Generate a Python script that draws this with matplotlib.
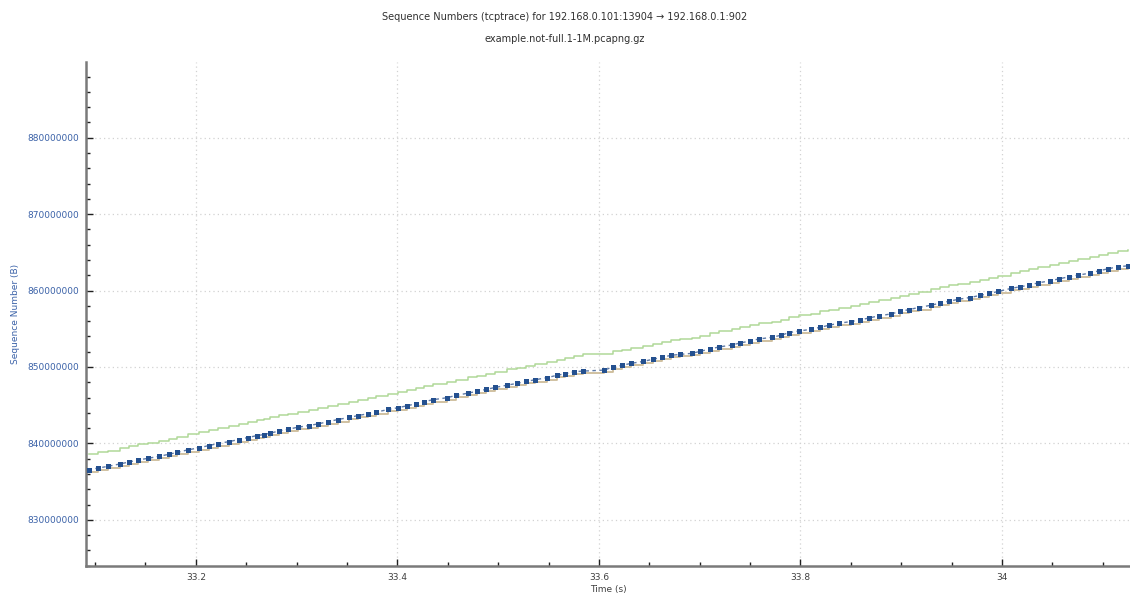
import matplotlib
matplotlib.use("Agg")
import matplotlib.pyplot as plt
import matplotlib.ticker as ticker
import numpy as np

# segment send times (s) and sequence numbers (millions of bytes)
seg_time = [
    33.0935, 33.1034, 33.1124, 33.1246, 33.1338, 33.1427, 33.1521, 33.1636, 33.1729, 33.1818,
    33.1918, 33.2027, 33.2126, 33.2215, 33.2331, 33.2424, 33.2513, 33.2605, 33.2672, 33.2737,
    33.2827, 33.2916, 33.3009, 33.3125, 33.3214, 33.3307, 33.3406, 33.3522, 33.3611, 33.3704,
    33.3787, 33.3909, 33.4002, 33.4094, 33.4184, 33.4266, 33.4349, 33.4488, 33.4581, 33.4697,
    33.4786, 33.4878, 33.4971, 33.5087, 33.5186, 33.5275, 33.5368, 33.5484, 33.5580, 33.5666,
    33.5755, 33.5838, 33.6053, 33.6136, 33.6228, 33.6318, 33.6440, 33.6533, 33.6622, 33.6715,
    33.6807, 33.6920, 33.7006, 33.7102, 33.7188, 33.7317, 33.7402, 33.7499, 33.7585, 33.7717,
    33.7806, 33.7889, 33.7988, 33.8104, 33.8197, 33.8286, 33.8379, 33.8501, 33.8591, 33.8683,
    33.8776, 33.8898, 33.8991, 33.9080, 33.9173, 33.9295, 33.9385, 33.9477, 33.9566, 33.9682,
    33.9782, 33.9874, 33.9963, 34.0089, 34.0179, 34.0268, 34.0360, 34.0476, 34.0569, 34.0665,
    34.0757, 34.0873, 34.0963, 34.1055, 34.1148, 34.1254,
]
seg_seq = [
    836.56, 836.78, 836.99, 837.31, 837.57, 837.83, 838.04, 838.31, 838.57, 838.83,
    839.15, 839.41, 839.71, 839.97, 840.24, 840.50, 840.76, 841.02, 841.15, 841.33,
    841.64, 841.85, 842.11, 842.34, 842.56, 842.82, 843.12, 843.39, 843.65, 843.87,
    844.08, 844.44, 844.66, 844.92, 845.18, 845.45, 845.71, 845.97, 846.27, 846.57,
    846.80, 847.06, 847.32, 847.62, 847.85, 848.11, 848.33, 848.60, 848.90, 849.12,
    849.38, 849.46, 849.59, 849.99, 850.21, 850.47, 850.73, 851.00, 851.26, 851.52,
    851.65, 851.78, 852.05, 852.35, 852.61, 852.87, 853.14, 853.40, 853.66, 853.88,
    854.15, 854.50, 854.71, 854.93, 855.20, 855.46, 855.72, 855.94, 856.15, 856.42,
    856.68, 856.94, 857.26, 857.52, 857.78, 858.08, 858.35, 858.61, 858.85, 859.09,
    859.36, 859.62, 859.88, 860.28, 860.49, 860.71, 861.01, 861.27, 861.54, 861.80,
    862.02, 862.28, 862.59, 862.85, 863.11, 863.24,
]
# acknowledged sequence number at the same instants
ack_seq = [
    836.30, 836.52, 836.73, 837.05, 837.31, 837.57, 837.78, 838.05, 838.31, 838.57,
    838.89, 839.15, 839.45, 839.71, 839.98, 840.24, 840.50, 840.76, 840.89, 841.07,
    841.38, 841.59, 841.85, 842.08, 842.30, 842.56, 842.86, 843.13, 843.39, 843.61,
    843.82, 844.18, 844.40, 844.66, 844.92, 845.19, 845.45, 845.71, 846.01, 846.31,
    846.54, 846.80, 847.06, 847.36, 847.59, 847.85, 848.07, 848.34, 848.64, 848.86,
    849.12, 849.20, 849.33, 849.73, 849.95, 850.21, 850.47, 850.74, 851.00, 851.26,
    851.39, 851.52, 851.79, 852.09, 852.35, 852.61, 852.88, 853.14, 853.40, 853.62,
    853.89, 854.24, 854.45, 854.67, 854.94, 855.20, 855.46, 855.68, 855.89, 856.16,
    856.42, 856.68, 857.00, 857.26, 857.52, 857.82, 858.09, 858.35, 858.59, 858.83,
    859.10, 859.36, 859.62, 860.02, 860.23, 860.45, 860.75, 861.01, 861.28, 861.54,
    861.76, 862.02, 862.33, 862.59, 862.85, 862.98,
]
# receive window edge (ack + advertised window)
win_seq = [
    838.62, 838.84, 839.05, 839.37, 839.63, 839.89, 840.10, 840.37, 840.63, 840.89,
    841.21, 841.47, 841.77, 842.03, 842.30, 842.56, 842.82, 843.08, 843.21, 843.39,
    843.70, 843.91, 844.17, 844.40, 844.62, 844.88, 845.18, 845.45, 845.71, 845.93,
    846.14, 846.50, 846.72, 846.98, 847.24, 847.51, 847.77, 848.03, 848.33, 848.63,
    848.86, 849.12, 849.38, 849.68, 849.91, 850.17, 850.39, 850.66, 850.96, 851.18,
    851.44, 851.75, 851.75, 852.05, 852.27, 852.53, 852.79, 853.06, 853.32, 853.58,
    853.71, 853.84, 854.11, 854.41, 854.67, 854.93, 855.20, 855.46, 855.72, 855.94,
    856.21, 856.56, 856.77, 856.99, 857.26, 857.52, 857.78, 858.00, 858.21, 858.48,
    858.74, 859.00, 859.32, 859.58, 859.84, 860.14, 860.41, 860.67, 860.91, 861.15,
    861.42, 861.68, 861.94, 862.34, 862.55, 862.77, 863.07, 863.33, 863.60, 863.86,
    864.08, 864.34, 864.65, 864.91, 865.17, 865.30,
]

t = np.array(seg_time)
seq = np.array(seg_seq) * 1e6
ack = np.array(ack_seq) * 1e6
win = np.array(win_seq) * 1e6

plt.rcParams['font.family'] = ['DejaVu Sans']

fig = plt.figure(figsize=(11.3, 5.98), dpi=100)
ax = fig.add_axes([0.0761, 0.0535, 0.9239, 0.8428])

ax.plot(t, win, color='#b0d898', linewidth=1.1, drawstyle='steps-post', zorder=3)
ax.plot(t, ack, color='#cdbc9a', linewidth=1.3, drawstyle='steps-post', zorder=3)
ax.plot(t, seq, color='#2b4f8a', linewidth=1.0, linestyle=(0, (2.5, 2.5)), alpha=0.75, zorder=4)
ax.plot(t, seq, 's', color='#24508f', markersize=3.6, markeredgewidth=0, zorder=5)

ax.set_xlim(33.091, 34.127)
ax.set_ylim(823.96e6, 889.9e6)

ax.xaxis.set_major_locator(ticker.MultipleLocator(0.2))
ax.xaxis.set_minor_locator(ticker.MultipleLocator(0.05))
ax.yaxis.set_major_locator(ticker.MultipleLocator(10e6))
ax.yaxis.set_minor_locator(ticker.MultipleLocator(2e6))
ax.xaxis.set_major_formatter(ticker.FuncFormatter(lambda v, p: f'{v:g}'))
ax.yaxis.set_major_formatter(ticker.FuncFormatter(lambda v, p: f'{v:.0f}'))

ax.grid(True, which='major', color='#d2d2d2', linestyle=(0, (1, 2.5)), linewidth=0.9)
ax.set_axisbelow(True)

for side in ['top', 'right']:
    ax.spines[side].set_visible(False)
for side in ['left', 'bottom']:
    ax.spines[side].set_color('#7a7a7a')
    ax.spines[side].set_linewidth(1.8)

ax.tick_params(which='both', direction='in', color='#202020', width=1)
ax.tick_params(which='major', length=5)
ax.tick_params(which='minor', length=3)
ax.tick_params(axis='y', labelsize=6.5, labelcolor='#3b62a8', pad=5)
ax.tick_params(axis='x', labelsize=6.5, labelcolor='#404040', pad=5)

ax.set_xlabel('Time (s)', fontsize=6.5, color='#404040', labelpad=2)
ax.set_ylabel('Sequence Number (B)', fontsize=6.5, color='#3b62a8', labelpad=5)

fig.text(0.5, 0.972, 'Sequence Numbers (tcptrace) for 192.168.0.101:13904 \u2192 192.168.0.1:902',
         ha='center', va='center', fontsize=7, color='#303030')
fig.text(0.5, 0.935, 'example.not-full.1-1M.pcapng.gz',
         ha='center', va='center', fontsize=7, color='#303030')

fig.savefig('out.png', dpi=100, facecolor='white')
